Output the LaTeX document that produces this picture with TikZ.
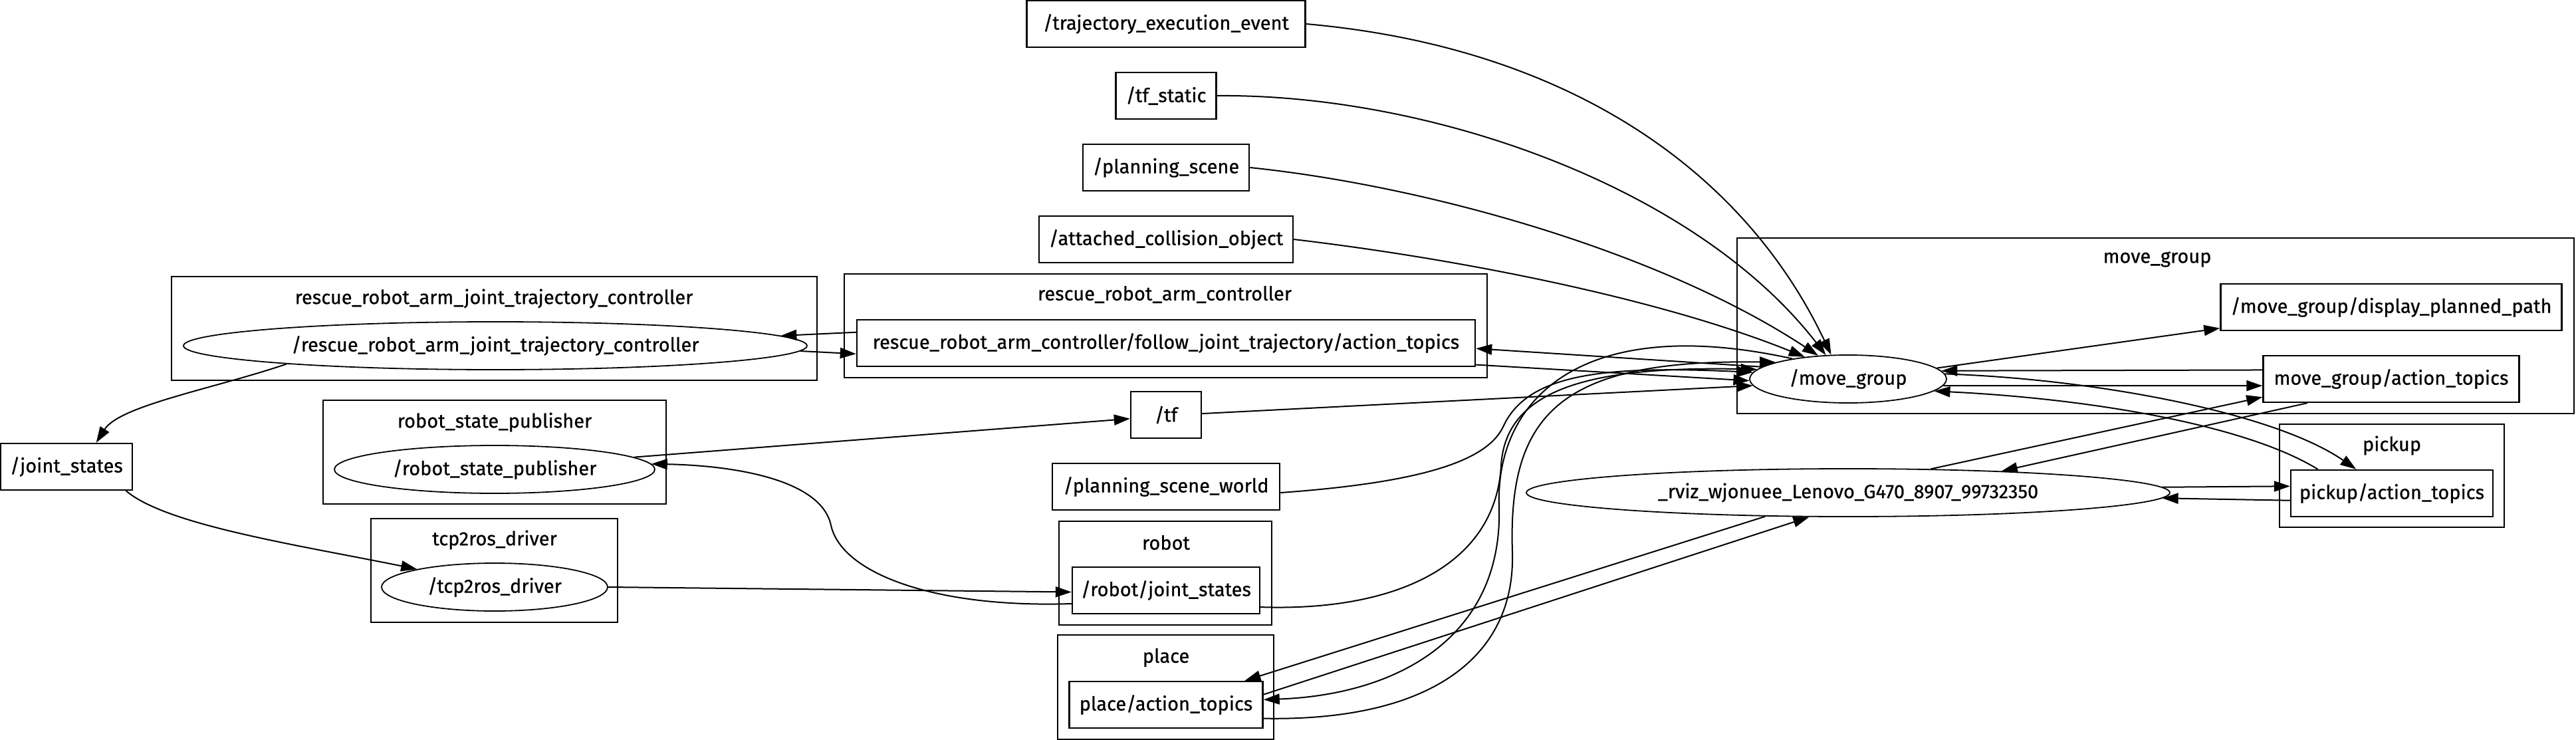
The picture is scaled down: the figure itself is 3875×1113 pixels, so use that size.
\documentclass[tikz,border=0pt]{standalone}
\usepackage{fontspec}
\setmainfont{Fira Sans}[FakeBold=0.7]
\usetikzlibrary{positioning, arrows.meta, shapes.geometric}

\begin{document}
\begin{tikzpicture}[
    x=1pt, y=-1pt,
    font=\fontsize{29}{34}\selectfont,
    topic/.style={
        draw,
        line width=2.4pt,
        rectangle,
        minimum height=70pt,
        inner sep=0pt
    },
    rosnode/.style={
        draw,
        line width=1.8pt,
        ellipse,
        minimum height=72pt,
        inner sep=0pt
    },
    group/.style={
        draw,
        line width=2.4pt,
        rectangle,
        inner sep=0pt
    },
    arrow/.style={
        -{Triangle[length=24pt,width=16pt]},
        line width=2pt
    }
]

\useasboundingbox (0,0) rectangle (3875,1113);

\node[group, minimum width=971pt, minimum height=156pt] (rrjtcgroup) at (743.5,494) {};
\node (rrjtclabel) at (743,449) {rescue\_robot\_arm\_joint\_trajectory\_controller};
\node[group, minimum width=967pt, minimum height=156pt] (rracgroup) at (1753.5,490) {};
\node (rraclabel) at (1752,443) {rescue\_robot\_arm\_controller};
\node[group, minimum width=516pt, minimum height=156pt] (rspgroup) at (744,680) {};
\node (rsplabel) at (744,635) {robot\_state\_publisher};
\node[group, minimum width=371pt, minimum height=156pt] (tcpgroup) at (743.5,858) {};
\node (tcplabel) at (744,812) {tcp2ros\_driver};
\node[group, minimum width=320pt, minimum height=156pt] (robotgroup) at (1753,862) {};
\node (robotlabel) at (1754,816) {robot};
\node[group, minimum width=325pt, minimum height=157pt] (placegroup) at (1753.5,1033.5) {};
\node (placelabel) at (1754,989) {place};
\node[group, minimum width=1259pt, minimum height=264pt] (mggroup) at (3242.5,490) {};
\node (mglabel) at (3245,390) {move\_group};
\node[group, minimum width=338pt, minimum height=155pt] (pickgroup) at (3598,715.5) {};
\node (picklabel) at (3598,670) {pickup};

\node[topic, minimum width=419pt] (traj) at (1754,36) {/trajectory\_execution\_event};
\node[topic, minimum width=151pt] (tfstatic) at (1754,144) {/tf\_static};
\node[topic, minimum width=250pt] (pscene) at (1754,252) {/planning\_scene};
\node[topic, minimum width=382pt] (attached) at (1754,360) {/attached\_collision\_object};
\node[topic, minimum width=930pt] (follow) at (1754,516)
    {rescue\_robot\_arm\_controller/follow\_joint\_trajectory/action\_topics};
\node[topic, minimum width=106pt] (tf) at (1754,624) {/tf};
\node[topic, minimum width=342pt] (pscw) at (1754,732) {/planning\_scene\_world};
\node[topic, minimum width=282pt] (rjs) at (1754,888) {/robot/joint\_states};
\node[topic, minimum width=291pt] (place) at (1754,1060) {place/action\_topics};
\node[topic, minimum width=198pt] (js) at (100,702) {/joint\_states};
\node[topic, minimum width=513pt] (dpp) at (3597,462) {/move\_group/display\_planned\_path};
\node[topic, minimum width=385pt] (mga) at (3597,570) {move\_group/action\_topics};
\node[topic, minimum width=304pt] (pick) at (3598,742) {pickup/action\_topics};

\node[rosnode, minimum width=938pt] (rrjtc) at (745,520) {/rescue\_robot\_arm\_joint\_trajectory\_controller};
\node[rosnode, minimum width=482pt] (rsp) at (744,706) {/robot\_state\_publisher};
\node[rosnode, minimum width=340pt] (tcp) at (744,883) {/tcp2ros\_driver};
\node[rosnode, minimum width=296pt] (mg) at (2780,570) {/move\_group};
\node[rosnode, minimum width=968pt] (rviz) at (2780,741) {\_rviz\_wjonuee\_Lenovo\_G470\_8907\_99732350};

\draw[arrow] (traj.east) .. controls (2350,70) and (2620,250) .. (mg.125);
\draw[arrow] (tfstatic.east) .. controls (2150,141) and (2550,280) .. (mg.133);
\draw[arrow] (pscene.east) .. controls (2150,280) and (2500,380) .. (mg.142);
\draw[arrow] (attached.east) .. controls (2200,390) and (2500,450) .. (mg.153);

\draw[arrow] (mg.172) -- (follow.-1.4);
\draw[arrow] (follow.-4.65) -- (mg.181);
\draw[arrow] (follow.178.6) -- (rrjtc.2);
\draw[arrow] (rrjtc.-1.55) -- (follow.182);
\draw[arrow] (rrjtc.185) .. controls (320,585) and (180,610) .. (js.39);
\draw[arrow] (js.-22.6) .. controls (250,790) and (450,820) .. (tcp.167);
\draw[arrow] (tcp.east) -- (rjs.181);
\draw[arrow] (rjs.188) .. controls (1400,915) and (1265,860) .. (1250,790)
    .. controls (1235,720) and (1100,700) .. (rsp.2.5);
\draw[arrow] (rsp.5) -- (tf.186.5);
\draw[arrow] (tf.2) -- (mg.184);

\draw[arrow] (pscw.-3.3) .. controls (2150,725) and (2240,690) .. (2262,640)
    .. controls (2300,560) and (2420,550) .. (mg.176);
\draw[arrow] (rjs.-10.8) .. controls (2100,920) and (2250,850) .. (2258,700)
    .. controls (2265,590) and (2380,550) .. (mg.174);
\draw[arrow] (place.-8.6) .. controls (2150,1085) and (2280,990) .. (2275,830)
    .. controls (2268,620) and (2350,540) .. (mg.167);
\draw[arrow] (mg.160) .. controls (2380,470) and (2250,600) .. (2255,760)
    .. controls (2262,960) and (2100,1045) .. (place.3);
\draw[arrow] (rviz.196.4) -- (place.17);
\draw[arrow] (place.6) -- (rviz.212.6);

\draw[arrow] (mg.7.4) -- (dpp.187.3);
\draw[arrow] (mga.176) -- (mg.5);
\draw[arrow] (mg.-4) -- (mga.183.6);
\draw[arrow] (rviz.16.2) -- (mga.188);
\draw[arrow] (mga.196) -- (rviz.8.5);
\draw[arrow] (mg.3) .. controls (3150,570) and (3420,620) .. (pick.146);
\draw[arrow] (pick.162.6) .. controls (3380,640) and (3150,600) .. (mg.-8);
\draw[arrow] (rviz.1.5) -- (pick.176);
\draw[arrow] (pick.184.1) -- (rviz.-1.8);

\end{tikzpicture}
\end{document}
